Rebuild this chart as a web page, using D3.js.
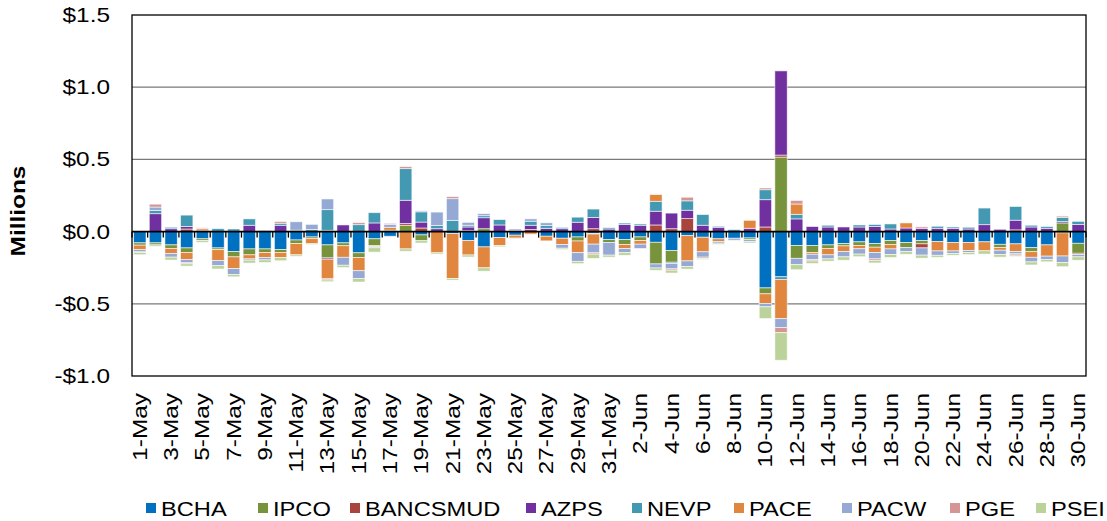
<!DOCTYPE html>
<html><head><meta charset="utf-8">
<script src="https://cdn.jsdelivr.net/npm/d3@7"></script>
<style>
html,body{margin:0;padding:0;background:#fff;}
svg{display:block;font-family:"Liberation Sans",Arial,sans-serif;}
</style></head>
<body>
<svg id="chart" width="1107" height="521"></svg>
<script>
const dates = ["1-May","2-May","3-May","4-May","5-May","6-May","7-May","8-May","9-May","10-May",
"11-May","12-May","13-May","14-May","15-May","16-May","17-May","18-May","19-May","20-May",
"21-May","22-May","23-May","24-May","25-May","26-May","27-May","28-May","29-May","30-May",
"31-May","1-Jun","2-Jun","3-Jun","4-Jun","5-Jun","6-Jun","7-Jun","8-Jun","9-Jun",
"10-Jun","11-Jun","12-Jun","13-Jun","14-Jun","15-Jun","16-Jun","17-Jun","18-Jun","19-Jun",
"20-Jun","21-Jun","22-Jun","23-Jun","24-Jun","25-Jun","26-Jun","27-Jun","28-Jun","29-Jun","30-Jun"];

const seriesNames = ["BCHA","IPCO","BANCSMUD","AZPS","NEVP","PACE","PACW","PGE","PSEI"];
const seriesColors = ["#0070C0","#77933C","#A9443F","#7030A0","#4299B1","#E0863E","#95A9D4","#D69595","#BBD39B"];

// values in $ millions
const BCHA = [-0.078,-0.078,-0.092,-0.113,-0.05,-0.113,-0.138,-0.12,-0.12,-0.124,
-0.058,-0.037,-0.092,-0.078,-0.147,-0.05,-0.032,0,-0.023,0,
-0.014,-0.062,-0.106,-0.041,-0.025,0,-0.032,-0.046,-0.037,-0.012,
-0.055,-0.055,-0.037,-0.074,-0.131,-0.028,-0.039,-0.05,-0.046,-0.044,
-0.39,-0.313,-0.097,-0.097,-0.092,-0.083,-0.071,-0.083,-0.062,-0.076,
-0.062,-0.069,-0.076,-0.076,-0.071,-0.088,-0.085,-0.111,-0.092,0,-0.081];
const IPCO = [-0.016,-0.014,-0.025,-0.032,-0.012,-0.012,-0.037,-0.041,-0.025,-0.02,
-0.025,-0.012,-0.09,-0.02,-0.032,-0.046,0,0.044,-0.04,0,
0,0,0.02,0,0,0,0,0,-0.028,-0.005,
-0.02,-0.035,-0.025,-0.15,-0.081,0,0,0,0,-0.012,
-0.041,0.516,-0.088,-0.048,-0.025,-0.016,-0.025,-0.025,-0.028,-0.035,
-0.023,0,0,0,0,-0.023,0,-0.028,0,0.06,-0.069];
const BANCSMUD = [0,0,0,0.018,0.01,0,0,0,0,0,
0,0,0.009,0,0,0,0,0.012,0.025,0,
0,0.007,0,0,0,0.014,0,0,0,0.02,
0,0,0,0.046,0.02,0.09,0,0,0,0,
0.032,0.014,0,0,0,0,0,0,0,0,
-0.028,0,0,0,0,0,0.012,0,0,-0.009,-0.009];
const AZPS = [0,0.124,0.02,0.018,0,0,0,0.044,0.007,0.044,
0,0,-0.009,0.046,0,0.06,0,0.161,0.041,0.02,
0,0.025,0.076,0.046,0.009,0.03,0.023,0.02,0.065,0.078,
0.018,0.05,0.044,0.095,0.108,0.058,0.044,0.03,0,0.023,
0.189,0.583,0.088,0.035,0.032,0.032,0.032,0.035,0.018,0.025,
0.023,0.023,0.023,0.018,0.048,0.016,0.067,0.032,0.023,0.009,0.05];
const NEVP = [0,0.023,0.01,0.078,0,0.02,0.018,0.044,0,0.014,
0.01,0.015,0.143,0,0.048,0.071,0.01,0.219,0.071,0.023,
0.078,0.012,0.014,0.037,0,0.028,0.02,0.009,0.035,0.058,
0.009,0.009,0.009,0.069,-0.009,0.065,0.074,0.007,0.014,0,
0.069,-0.018,0.032,0,0.012,0,0.014,0.014,0.035,0,
0,0.014,0.009,0.012,0.115,0,0.095,0.012,0.012,0.028,0.021];
const PACE = [-0.03,0,-0.035,-0.048,0.01,-0.076,-0.081,-0.028,-0.035,-0.035,
-0.078,-0.035,-0.136,-0.08,-0.092,-0.008,0.02,-0.12,0,-0.147,
-0.31,-0.1,-0.145,-0.055,-0.02,-0.018,-0.032,-0.044,-0.081,-0.07,
0,-0.028,-0.025,0.046,0,-0.175,-0.101,-0.018,0,0.055,
-0.067,-0.272,0.071,-0.012,-0.044,-0.039,-0.023,-0.037,-0.03,0.035,
0,-0.065,-0.058,-0.055,-0.062,-0.018,-0.053,-0.039,-0.078,-0.16,0];
const PACW = [-0.016,0.023,-0.025,-0.023,0,-0.035,-0.041,-0.009,-0.016,0,
0.058,0.035,0.074,-0.055,-0.053,-0.008,0.02,0,0.007,0.092,
0.15,0.02,0.014,0,0.009,0.016,0.018,-0.025,-0.06,-0.06,
-0.088,-0.028,-0.03,-0.028,-0.037,-0.039,-0.037,-0.012,-0.014,-0.014,
-0.023,-0.062,-0.044,-0.037,-0.028,-0.037,-0.037,-0.044,-0.039,-0.028,
-0.05,-0.03,-0.018,-0.014,0,-0.03,-0.016,-0.032,-0.023,-0.046,-0.016];
const PGE = [-0.004,0.02,0,-0.007,0.006,0,0,0,0,0.012,
0,0,-0.008,0,0.014,0,0.007,0.014,0,0,
0.014,0,0,0,0,0,0,0,0,-0.009,
0,0,0,0,-0.009,0.025,-0.009,0,0,0,
0.012,-0.035,0.025,-0.009,0,0,0,-0.01,0,0,
0.01,0,0,0,0,0,-0.009,0,0,0.01,0];
const PSEI = [-0.016,-0.01,-0.02,-0.016,-0.012,-0.023,-0.016,-0.02,-0.018,-0.023,
-0.01,-0.005,-0.012,-0.016,-0.025,-0.03,0,-0.016,-0.016,-0.009,
-0.012,-0.014,-0.023,-0.009,-0.005,-0.005,0,-0.009,-0.016,-0.03,
-0.014,-0.018,0,-0.016,-0.02,-0.018,-0.007,-0.009,-0.005,-0.009,
-0.081,-0.191,-0.035,-0.018,-0.016,-0.023,-0.018,-0.018,-0.021,-0.018,
-0.021,-0.014,-0.012,-0.014,-0.023,-0.018,-0.009,-0.021,-0.016,-0.028,-0.023];

const yTicks = [-1.0,-0.5,0,0.5,1.0,1.5];
const yTitle = "Millions";

const seriesValues = [BCHA,IPCO,BANCSMUD,AZPS,NEVP,PACE,PACW,PGE,PSEI];
const rows = dates.map((d,i)=>{const r={date:d}; seriesNames.forEach((s,k)=>r[s]=seriesValues[k][i]); return r;});

const svg = d3.select("#chart");
const L=132, R=1086, T=15, B=376;
const SX=1.22; // horizontal glyph stretch seen in reference
const FS=20;

const x = d3.scaleBand().domain(dates).range([L,R]).paddingInner(0.21).paddingOuter(0.105);
const y = d3.scaleLinear().domain([-1,1.5]).range([B,T]);

// gridlines
svg.append("g").selectAll("line").data(yTicks.filter(v=>v!==0 && v!==-1 && v!==1.5)).join("line")
  .attr("x1",L).attr("x2",R).attr("y1",d=>y(d)).attr("y2",d=>y(d))
  .attr("stroke","#7a7a7a").attr("stroke-width",1.3);

// bars
const stack = d3.stack().keys(seriesNames).offset(d3.stackOffsetDiverging);
const stacked = stack(rows);
svg.append("g").selectAll("g").data(stacked).join("g")
  .attr("fill",(d,i)=>seriesColors[i])
  .selectAll("rect").data(d=>d.filter(p=>p[1]-p[0]!==0)).join("rect")
  .attr("x",d=>x(d.data.date)).attr("width",x.bandwidth())
  .attr("y",d=>y(Math.max(d[0],d[1]))).attr("height",d=>Math.abs(y(d[0])-y(d[1])))
  .attr("stroke","#ffffff").attr("stroke-width",0.8).attr("stroke-opacity",0.7);

// plot border
svg.append("rect").attr("x",L).attr("y",T).attr("width",R-L).attr("height",B-T)
  .attr("fill","none").attr("stroke","#000").attr("stroke-width",1.3);

// zero line + ticks at category boundaries
svg.append("line").attr("x1",L).attr("x2",R).attr("y1",y(0)).attr("y2",y(0)).attr("stroke","#000").attr("stroke-width",1.6);
svg.append("g").selectAll("line").data(d3.range(dates.length+1)).join("line")
  .attr("x1",i=>L+i*(R-L)/dates.length).attr("x2",i=>L+i*(R-L)/dates.length)
  .attr("y1",y(0)).attr("y2",y(0)+6).attr("stroke","#000").attr("stroke-width",1.3);

// y axis labels
const yAxis = d3.axisLeft(y).tickValues(yTicks).tickSize(0)
  .tickFormat(v=> (v<0?"-$":"$")+Math.abs(v).toFixed(1));
const gy = svg.append("g").attr("transform",`translate(${L},0)`).call(yAxis);
gy.select(".domain").remove();
gy.selectAll("text").attr("x",null).attr("font-size",FS).attr("fill","#000")
  .attr("font-family","Liberation Sans, Arial, sans-serif")
  .attr("transform",`translate(-22,0) scale(${SX},1)`);

// x axis labels (every other category)
const xAxis = d3.axisBottom(x).tickValues(dates.filter((d,i)=>i%2===0)).tickSize(0);
const gx = svg.append("g").attr("transform",`translate(0,${B})`).call(xAxis);
gx.select(".domain").remove();
gx.selectAll("text").attr("y",null).attr("x",null).attr("dy","0.35em")
  .attr("font-size",FS).attr("fill","#000").attr("text-anchor","end")
  .attr("font-family","Liberation Sans, Arial, sans-serif")
  .attr("transform",`translate(0,17) rotate(-90) scale(${SX},1)`);

// y title
svg.append("text").attr("transform",`translate(25,211) rotate(-90) scale(${SX},1)`)
  .attr("text-anchor","middle").attr("font-size",FS).attr("font-weight","bold").text(yTitle);

// legend
const legendX = [146,258,350,526,632,734,842,950,1036];
const lg = svg.append("g");
seriesNames.forEach((s,i)=>{
  const lx = legendX[i];
  lg.append("rect").attr("x",lx).attr("y",503).attr("width",10).attr("height",10).attr("fill",seriesColors[i]);
  lg.append("text").attr("transform",`translate(${lx+15},515.5) scale(${SX*0.97},1)`)
    .attr("font-size",FS).text(s);
});
</script>
</body></html>
